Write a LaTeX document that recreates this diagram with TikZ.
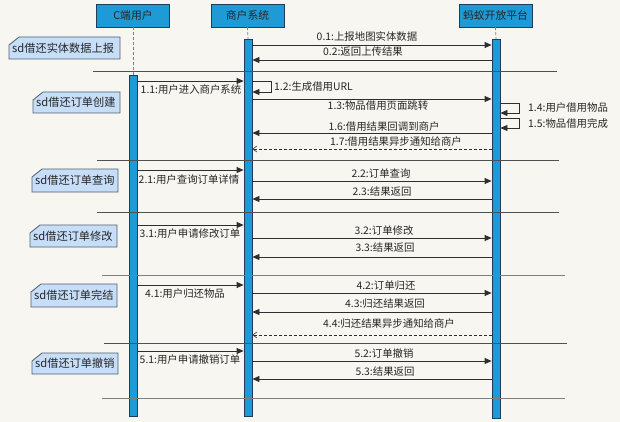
\documentclass[tikz,border=0pt]{standalone}
\usepackage{fontspec}
\setmainfont{Noto Sans CJK SC}
\usetikzlibrary{arrows.meta}
\definecolor{bgc}{HTML}{F8F6F0}
\definecolor{barfill}{HTML}{1E9BD7}
\definecolor{barline}{HTML}{1B3F5A}
\definecolor{notefill}{HTML}{C6DEF7}
\definecolor{noteline}{HTML}{4F5F6F}
\definecolor{linec}{HTML}{2E2E2E}
\definecolor{sepc}{HTML}{505050}
\tikzset{
  head/.style={draw=barline, fill=barfill, minimum width=73pt, minimum height=23pt, inner sep=0pt, font=\fontsize{10.8}{12}\selectfont, text=black!85},
  actbar/.style={draw=barline, fill=barfill, minimum width=8pt, inner sep=0pt, anchor=north, line width=0.8pt},
  life/.style={draw=gray, dashed, dash pattern=on 3pt off 2pt, line width=0.8pt},
  msgline/.style={draw=linec, line width=0.8pt, -{Triangle[length=7pt,width=6pt]}},
  retline/.style={draw=linec, line width=0.8pt, dashed, dash pattern=on 3pt off 2pt, -{Straight Barb[length=4pt,width=6pt,line width=0.6pt]}},
  lbl/.style={inner sep=0pt, font=\fontsize{10.4}{12}\selectfont, text=black!85},
  notelbl/.style={inner sep=0pt, font=\fontsize{11.2}{12}\selectfont, text=black!85},
  notebox/.style={draw=noteline, fill=notefill, line width=0.8pt},
  sep/.style={draw=sepc, line width=0.9pt},
}
\newcommand\sdnote[6]{%
  \draw[notebox] (#2+10,#3) -- (#4,#3) -- (#4,#5) -- (#2,#5) -- (#2,#3+8) -- cycle;
  \node[notelbl, anchor=west] (#1) at (#2+3,{(#3+#5)/2}) {#6};
}
\begin{document}
\begin{tikzpicture}[x=1pt,y=-1pt]
\fill[bgc] (0,0) rectangle (620,422);
\useasboundingbox (0,0) rectangle (620,422);
% headers
\node[head] (hc) at (133,15.5) {C端用户};
\node[head] (hm) at (247.5,15.5) {商户系统};
\node[head] (ha) at (495.5,15.5) {蚂蚁开放平台};
% activation bars
\node[actbar, minimum height=341pt] (cb) at (133,75) {};
\node[actbar, minimum height=377pt] (mb) at (248,39) {};
\node[actbar, minimum height=379pt] (ab) at (496,39) {};
% lifelines
\draw[life] (hc.south) -- (cb.north);
\draw[life] (hm.south) -- (mb.north);
\draw[life] (ha.south) -- (ab.north);
% separators
\draw[sep] (93,71) -- (557,71);
\draw[sep] (97,160) -- (559,160);
\draw[sep] (97,212) -- (559,212);
\draw[sep, draw=gray] (102,275) -- (565,275);
\draw[sep] (104,343) -- (567,343);
\draw[sep, draw=gray] (102,398) -- (565,398);
% notes
\sdnote{n0}{9}{37}{120}{59}{sd借还实体数据上报}
\sdnote{n1}{33}{92}{120}{113}{sd借还订单创建}
\sdnote{n2}{32}{169}{118}{192}{sd借还订单查询}
\sdnote{n3}{30}{225}{117}{247}{sd借还订单修改}
\sdnote{n4}{31}{284}{117}{307}{sd借还订单完结}
\sdnote{n5}{32}{353}{118}{374}{sd借还订单撤销}
% section 0
\draw[msgline] (mb.east |- 0,45) -- (ab.west |- 0,45);
\node[lbl] (l01) at (367,37) {0.1:上报地图实体数据};
\draw[msgline] (ab.west |- 0,60) -- (mb.east |- 0,60);
\node[lbl] (l02) at (363,52) {0.2:返回上传结果};
% section 1
\draw[msgline] (cb.east |- 0,81) -- (mb.west |- 0,81);
\node[lbl] (l11) at (191,90) {1.1:用户进入商户系统};
\draw[msgline] (mb.east |- 0,81) -- (271,81) -- (271,92) -- (mb.east |- 0,92);
\node[lbl, anchor=west] (l12) at (274,87) {1.2:生成借用URL};
\draw[msgline] (mb.east |- 0,99) -- (ab.west |- 0,99);
\node[lbl] (l13) at (378,106) {1.3:物品借用页面跳转};
\draw[msgline] (ab.east |- 0,103) -- (519,103) -- (519,113) -- (ab.east |- 0,113);
\node[lbl, anchor=west] (l14) at (528,108) {1.4:用户借用物品};
\draw[msgline] (ab.east |- 0,118) -- (519,118) -- (519,128) -- (ab.east |- 0,128);
\node[lbl, anchor=west] (l15) at (528,124) {1.5:物品借用完成};
\draw[msgline] (ab.west |- 0,133) -- (mb.east |- 0,133);
\node[lbl] (l16) at (384,127) {1.6:借用结果回调到商户};
\draw[retline] (ab.west |- 0,149) -- (mb.east |- 0,149);
\node[lbl] (l17) at (396,142) {1.7:借用结果异步通知给商户};
% section 2
\draw[msgline] (cb.east |- 0,170) -- (mb.west |- 0,170);
\node[lbl] (l21) at (189,180) {2.1:用户查询订单详情};
\draw[msgline] (mb.east |- 0,181) -- (ab.west |- 0,181);
\node[lbl] (l22) at (381,174) {2.2:订单查询};
\draw[msgline] (ab.west |- 0,199) -- (mb.east |- 0,199);
\node[lbl] (l23) at (382,192) {2.3:结果返回};
% section 3
\draw[msgline] (cb.east |- 0,225) -- (mb.west |- 0,225);
\node[lbl] (l31) at (190,234) {3.1:用户申请修改订单};
\draw[msgline] (mb.east |- 0,238) -- (ab.west |- 0,238);
\node[lbl] (l32) at (384,231) {3.2:订单修改};
\draw[msgline] (ab.west |- 0,257) -- (mb.east |- 0,257);
\node[lbl] (l33) at (385,248) {3.3:结果返回};
% section 4
\draw[msgline] (cb.east |- 0,285) -- (mb.west |- 0,285);
\node[lbl] (l41) at (185,294) {4.1:用户归还物品};
\draw[msgline] (mb.east |- 0,293) -- (ab.west |- 0,293);
\node[lbl] (l42) at (386,286) {4.2:订单归还};
\draw[msgline] (ab.west |- 0,312) -- (mb.east |- 0,312);
\node[lbl] (l43) at (385,304) {4.3:归还结果返回};
\draw[retline] (ab.west |- 0,335) -- (mb.east |- 0,335);
\node[lbl] (l44) at (389,324) {4.4:归还结果异步通知给商户};
% section 5
\draw[msgline] (cb.east |- 0,351) -- (mb.west |- 0,351);
\node[lbl] (l51) at (190,360) {5.1:用户申请撤销订单};
\draw[msgline] (mb.east |- 0,361) -- (ab.west |- 0,361);
\node[lbl] (l52) at (384,354) {5.2:订单撤销};
\draw[msgline] (ab.west |- 0,379) -- (mb.east |- 0,379);
\node[lbl] (l53) at (385,372) {5.3:结果返回};
\end{tikzpicture}
\end{document}
